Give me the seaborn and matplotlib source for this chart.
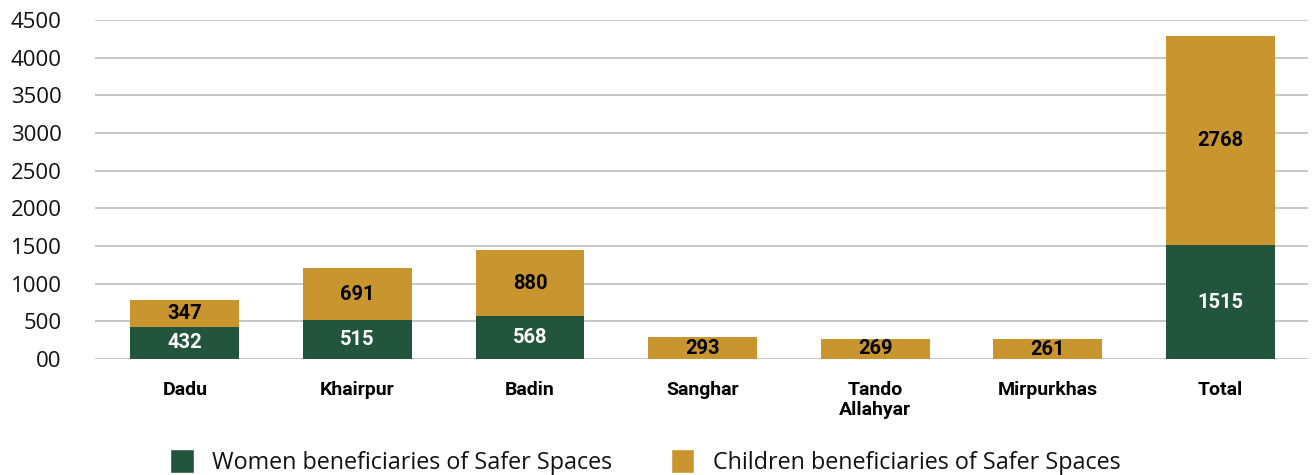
import pandas as pd
import matplotlib.pyplot as plt
import seaborn as sns
from matplotlib.patches import Patch

# Chart data
districts = ['Dadu', 'Khairpur', 'Badin', 'Sanghar', 'Tando\nAllahyar', 'Mirpurkhas', 'Total']
women = [432, 515, 568, 0, 0, 0, 1515]
children = [347, 691, 880, 293, 269, 261, 2768]
y_ticks = [0, 500, 1000, 1500, 2000, 2500, 3000, 3500, 4000, 4500]
y_tick_labels = ['00', '500', '1000', '1500', '2000', '2500', '3000', '3500', '4000', '4500']

green = '#23553D'
gold = '#C9952F'

sns.set_theme(style="white")
plt.rcParams['font.family'] = ['Open Sans', 'DejaVu Sans']

data = pd.DataFrame({'district': districts, 'women': women, 'children': children})
data['total'] = data['women'] + data['children']

fig = plt.figure(figsize=(13.16, 4.75), dpi=100)
ax = fig.add_axes([0.0722, 0.244, 0.922, 0.714])

# Stacked bars: total (gold) behind, women (green) in front
sns.barplot(x='district', y='total', data=data, color=gold, width=0.63,
            saturation=1, linewidth=0, ax=ax, zorder=3)
sns.barplot(x='district', y='women', data=data, color=green, width=0.63,
            saturation=1, linewidth=0, ax=ax, zorder=4)

narrow = ['Roboto', 'DejaVu Sans']

# Value labels
for i, row in data.iterrows():
    if row['women'] > 0:
        ax.text(i, row['women'] / 2, str(row['women']), ha='center', va='center',
                color='white', fontsize=14.5, fontweight='bold', family=narrow, zorder=5)
    ax.text(i, row['women'] + row['children'] / 2, str(row['children']), ha='center',
            va='center', color='black', fontsize=14.5, fontweight='bold', family=narrow, zorder=5)

ax.set_ylim(0, 4500)
ax.set_xlim(-0.52, 6.51)
ax.set_yticks(y_ticks)
ax.set_yticklabels(y_tick_labels, fontsize=16, color='#111111')
ax.set_xticks(range(len(districts)))
ax.set_xticklabels(districts, fontsize=14, fontweight='bold', family=narrow,
                   color='black', va='top', linespacing=1.15)
ax.tick_params(axis='y', length=0, pad=24)
ax.tick_params(axis='x', length=0, pad=16)
ax.set_xlabel('')
ax.set_ylabel('')
ax.yaxis.grid(True, color='#c8c8c8', linewidth=1.4, zorder=0)
ax.xaxis.grid(False)
for s in ax.spines.values():
    s.set_visible(False)

handles = [Patch(facecolor=green, label='Women beneficiaries of Safer Spaces'),
           Patch(facecolor=gold, label='Children beneficiaries of Safer Spaces')]
fig.legend(handles=handles, loc='center', bbox_to_anchor=(0.4905, 0.028), ncol=2,
           frameon=False, fontsize=16.8, handlelength=1.0, handleheight=1.2,
           columnspacing=2.5, handletextpad=0.8, labelcolor='#111111')

plt.savefig('out.png', dpi=100)
